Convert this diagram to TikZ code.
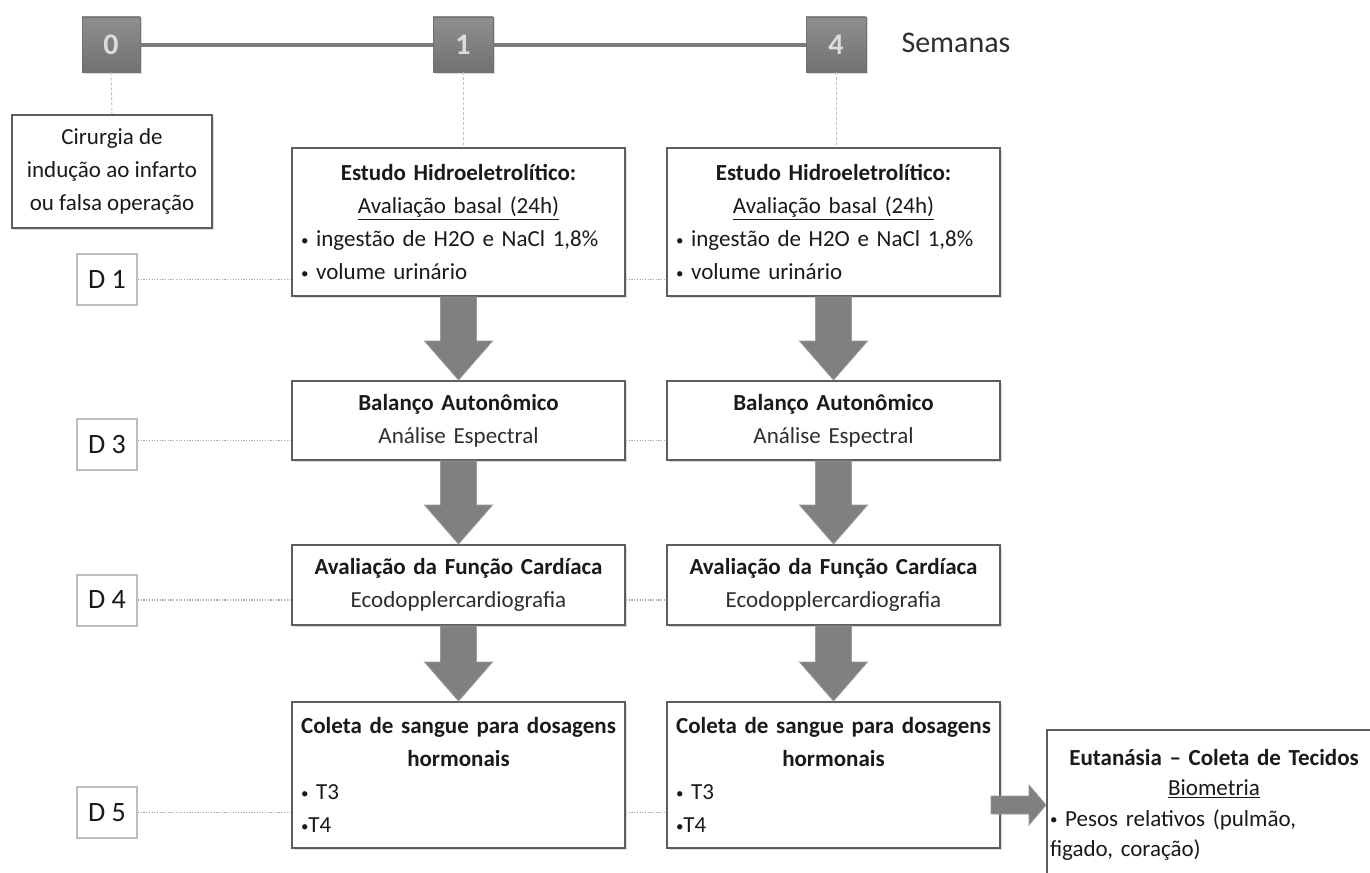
\documentclass[tikz,border=0pt]{standalone}
\usepackage{fontspec}
\setmainfont{Carlito}
\usetikzlibrary{calc,shadows}

\definecolor{ink}{HTML}{1A1A1A}
\definecolor{subink}{HTML}{2E2E2E}
\definecolor{frame}{HTML}{5E5E5E}
\definecolor{weektop}{HTML}{8F8F8F}
\definecolor{weekbot}{HTML}{717171}
\definecolor{weekline}{HTML}{7A7A7A}
\definecolor{weektext}{HTML}{DCDCDC}
\definecolor{flow}{HTML}{808080}
\definecolor{flowedge}{HTML}{9A9A9A}
\definecolor{guide}{HTML}{A6A6A6}
\definecolor{dayframe}{HTML}{BDBDBD}

% small list bullet
\newcommand\listdot{\raisebox{1.5bp}{\fontsize{15bp}{15bp}\selectfont •}}

\tikzset{
  x=1bp, y=-1bp,
  body/.style={font=\fontsize{23bp}{33bp}\selectfont, text=ink},
  stage/.style={body, draw=frame, line width=2bp, fill=white, inner xsep=9bp, inner ysep=0pt,
    drop shadow={shadow xshift=1.5bp, shadow yshift=-1.5bp, opacity=0.3}},
  week/.style={draw=weekbot, line width=0.8bp, top color=weektop, bottom color=weekbot,
    minimum height=55bp, inner sep=0pt, text=weektext,
    font=\fontsize{30bp}{30bp}\selectfont\bfseries,
    drop shadow={shadow xshift=1.5bp, shadow yshift=-1.5bp, opacity=0.3}},
  day/.style={draw=dayframe, line width=2bp, fill=white, minimum width=60bp,
    minimum height=51bp, inner sep=0pt, font=\fontsize{28bp}{28bp}\selectfont, text=ink},
  guideline/.style={draw=guide, line width=1.2bp, dash pattern=on 1.2bp off 1.5bp},
  drop/.style={draw=guide!70!white, line width=1bp, dash pattern=on 3bp off 2bp},
  flowfill/.style={fill=flow, draw=flowedge, line width=0.8bp, line join=miter}
}

% block arrow pointing down, from anchor #1 to anchor #2 (same x)
\newcommand\flowdown[2]{%
  \path[flowfill] ($(#1)+(-18,0)$) -- ($(#2)+(-18,-39)$) -- ($(#2)+(-34,-39)$) -- (#2)
    -- ($(#2)+(34,-39)$) -- ($(#2)+(18,-39)$) -- ($(#1)+(18,0)$) -- cycle;}
% block arrow pointing right, from anchor #1 to anchor #2 (same y)
\newcommand\flowright[2]{%
  \path[flowfill] ($(#1)+(0,-9)$) -- ($(#2)+(-17,-9)$) -- ($(#2)+(-17,-20)$) -- (#2)
    -- ($(#2)+(-17,20)$) -- ($(#2)+(-17,9)$) -- ($(#1)+(0,9)$) -- cycle;}

\begin{document}
\begin{tikzpicture}
\useasboundingbox (0,0) rectangle (1370,872);
\clip (0,0) rectangle (1370,872);

% time line in weeks
\node[week, minimum width=58bp] (w0) at (111,44.5) {0};
\node[week, minimum width=60bp] (w1) at (463,44.5) {1};
\node[week, minimum width=60bp] (w4) at (836,44.5) {4};
\draw[weekline, line width=4bp] (w0.east) -- (w1.west);
\draw[weekline, line width=4bp] (w1.east) -- (w4.west);
\node[font=\fontsize{30bp}{30bp}\selectfont, text=subink, anchor=west] (sem) at (898,43) {Semanas};

% surgery
\node[stage, minimum width=200bp, minimum height=113bp, align=center, inner xsep=2bp] (cir) at (112,171.5)
  {Cirurgia de\\indução ao infarto\\ou falsa operação};

% days
\node[day] (d1) at (107,279.5) {D 1};
\node[day] (d3) at (107,444.5) {D 3};
\node[day] (d4) at (107,600) {D 4};
\node[day] (d5) at (107,812.5) {D 5};

% protocol columns (week 1 and week 4)
\foreach \c/\x in {1/458.5, 2/833.5} {
  \node[stage, minimum width=333bp, minimum height=148bp, text width=315bp] (e\c) at (\x,222)
    {\centering\textbf{Estudo Hidroeletrolítico:}\\\underline{Avaliação basal (24h)}\par
     \raggedright \listdot{} ingestão de H2O e NaCl 1,8\%\\\listdot{} volume urinário};
  \node[stage, minimum width=333bp, minimum height=79bp, text width=315bp, align=center] (b\c) at (\x,420.5)
    {\textbf{Balanço Autonômico}\\{\color{subink}Análise Espectral}};
  \node[stage, minimum width=333bp, minimum height=80bp, text width=315bp, align=center] (a\c) at (\x,585)
    {\textbf{Avaliação da Função Cardíaca}\\{\color{subink}Ecodopplercardiografia}};
  \node[stage, minimum width=333bp, minimum height=146bp, text width=315bp] (c\c) at (\x,775)
    {\makebox[\linewidth][c]{\textbf{Coleta de sangue para dosagens}}\\
     \makebox[\linewidth][c]{\textbf{hormonais}}\\
     \listdot{} T3\\\listdot T4};
}

% euthanasia
\node[stage, minimum width=334bp, minimum height=150bp, text width=328bp, inner xsep=3bp,
      font=\fontsize{23bp}{30.5bp}\selectfont] (eu) at (1214,805)
  {\centering\makebox[\linewidth][c]{\textbf{Eutanásia – Coleta de Tecidos}}\\\underline{Biometria}\par
   \raggedright \listdot{} Pesos relativos (pulmão,\\figado, coração)};

% week drop lines
\draw[drop] (w0.south) -- (cir.north);
\draw[drop] (w1.south) -- (w1.south |- e1.north);
\draw[drop] (w4.south) -- (w4.south |- e2.north);

% day guide lines
\draw[guideline] (d1.east) -- (d1.east -| e1.west);
\draw[guideline] (d1.east -| e1.east) -- (d1.east -| e2.west);
\draw[guideline] ([yshift=4bp]d3.east) -- ([yshift=4bp]d3.east -| b1.west);
\draw[guideline] ([yshift=4bp]d3.east -| b1.east) -- ([yshift=4bp]d3.east -| b2.west);
\draw[guideline] (d4.east) -- (d4.east -| a1.west);
\draw[guideline] (d4.east -| a1.east) -- (d4.east -| a2.west);
\draw[guideline] (d5.east) -- (d5.east -| c1.west);
\draw[guideline] (d5.east -| c1.east) -- (d5.east -| c2.west);

% flow arrows
\foreach \c in {1,2} {
  \flowdown{e\c.south}{b\c.north}
  \flowdown{b\c.south}{a\c.north}
  \flowdown{a\c.south}{c\c.north}
}
\flowright{[xshift=-10bp]c2.east |- eu.west}{eu.west}
\end{tikzpicture}
\end{document}
